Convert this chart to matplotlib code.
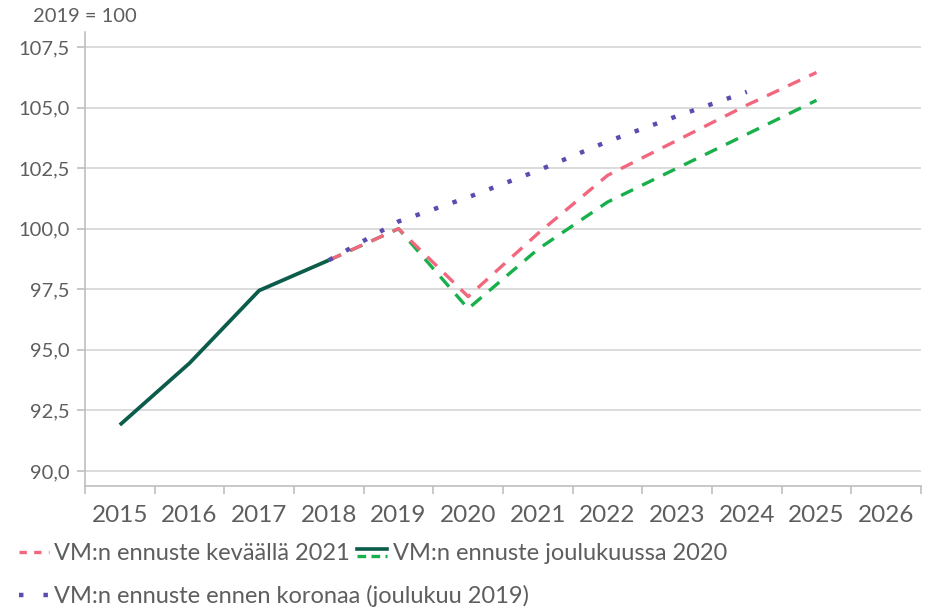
import numpy as np
import matplotlib
matplotlib.use("Agg")
import matplotlib.pyplot as plt
from matplotlib.lines import Line2D
from matplotlib.legend_handler import HandlerBase

# ---- data ----
years = ["2015", "2016", "2017", "2018", "2019", "2020", "2021", "2022",
         "2023", "2024", "2025", "2026"]
nan = np.nan
history = [91.9, 94.45, 97.45, 98.7, nan, nan, nan, nan, nan, nan, nan, nan]
spring2021 = [nan, nan, nan, 98.7, 100.0, 97.2, 99.8, 102.2, 103.65, 105.1, 106.45, nan]
dec2020 = [nan, nan, nan, 98.7, 100.0, 96.7, 99.15, 101.1, 102.5, 103.9, 105.3, nan]
precorona = [nan, nan, nan, 98.7, 100.3, 101.3, 102.4, 103.6, 104.65, 105.65, nan, nan]
yticks = [90.0, 92.5, 95.0, 97.5, 100.0, 102.5, 105.0, 107.5]
ytick_labels = ["90,0", "92,5", "95,0", "97,5", "100,0", "102,5", "105,0", "107,5"]
unit_label = "2019 = 100"
lbl_spring = "VM:n ennuste keväällä 2021"
lbl_dec = "VM:n ennuste joulukuussa 2020"
lbl_pre = "VM:n ennuste ennen koronaa (joulukuu 2019)"

# ---- style ----
plt.rcParams['font.family'] = ['Lato', 'DejaVu Sans']
TXT = "#5E5E5E"
PINK = "#F2677D"
GREEN = "#17B04A"
DARK = "#0B5C4A"
PURPLE = "#5A4DB0"
GRID = "#D9D9D9"
SPINE = "#BFBFBF"

fig = plt.figure(figsize=(9.35, 6.1), dpi=100)
ax = fig.add_axes([85/935, 1-486/610, (921-85)/935, (486-32)/610])

x = np.arange(len(years))
ax.plot(x, dec2020, color=GREEN, lw=2.4, dashes=(4, 3), zorder=3)
ax.plot(x, spring2021, color=PINK, lw=2.4, dashes=(4, 3), zorder=4)
ax.plot(x, precorona, color=PURPLE, lw=3.2, dashes=(1, 3.4), zorder=5)
ax.plot(x, history, color=DARK, lw=2.7, solid_capstyle='butt', zorder=6)

ax.set_xlim(-0.5, len(years) - 0.5)
ax.set_ylim(89.38, 108.12)
ax.set_yticks(yticks)
ax.set_yticklabels(ytick_labels)
ax.yaxis.grid(True, color=GRID, lw=1.3)
ax.set_axisbelow(True)

ax.set_xticks(x)
ax.set_xticklabels(years)
ax.set_xticks(np.arange(-0.5, len(years)), minor=True)
ax.tick_params(axis='x', which='major', length=0, pad=14, labelsize=17.5, labelcolor=TXT)
ax.tick_params(axis='x', which='minor', length=6, width=1.2, color=SPINE)
ax.tick_params(axis='y', length=6, width=1.2, color=SPINE, pad=5, labelsize=14.5, labelcolor=TXT)

for s in ['top', 'right']:
    ax.spines[s].set_visible(False)
for s in ['left', 'bottom']:
    ax.spines[s].set_color(SPINE)
    ax.spines[s].set_linewidth(1.2)

fig.text(33/935, 1-17/610, unit_label, fontsize=14.5, color=TXT, va='center', ha='left')


class HandlerDouble(HandlerBase):
    def create_artists(self, legend, orig_handle, xdescent, ydescent, width, height, fontsize, trans):
        y1 = -ydescent + height * 0.72
        y2 = -ydescent + height * 0.30
        l1 = Line2D([-xdescent, -xdescent + width], [y1, y1], color=DARK, lw=2.6, transform=trans)
        l2 = Line2D([-xdescent, -xdescent + width], [y2, y2], color=GREEN, lw=2.4,
                    dashes=(2.6, 1.6), transform=trans)
        return [l1, l2]


h_pink = Line2D([], [], color=PINK, lw=2.4, dashes=(2.2, 2.2))
h_dec = Line2D([], [], color=DARK)
h_pre = Line2D([], [], color=PURPLE, lw=3.2, dashes=(1, 4.5))

common = dict(frameon=False, fontsize=17, labelcolor=TXT, handlelength=1.25,
              handletextpad=0.25, columnspacing=0.3, borderpad=0, borderaxespad=0,
              bbox_transform=fig.transFigure)
leg1 = fig.legend([h_pink, h_dec], [lbl_spring, lbl_dec], ncol=2, loc='center left',
                  bbox_to_anchor=(19/935, 1-554/610), handler_map={h_dec: HandlerDouble()},
                  **common)
leg2 = fig.legend([h_pre], [lbl_pre], ncol=1, loc='center left',
                  bbox_to_anchor=(19/935, 1-596/610), **common)

fig.savefig("out.png", dpi=100)
